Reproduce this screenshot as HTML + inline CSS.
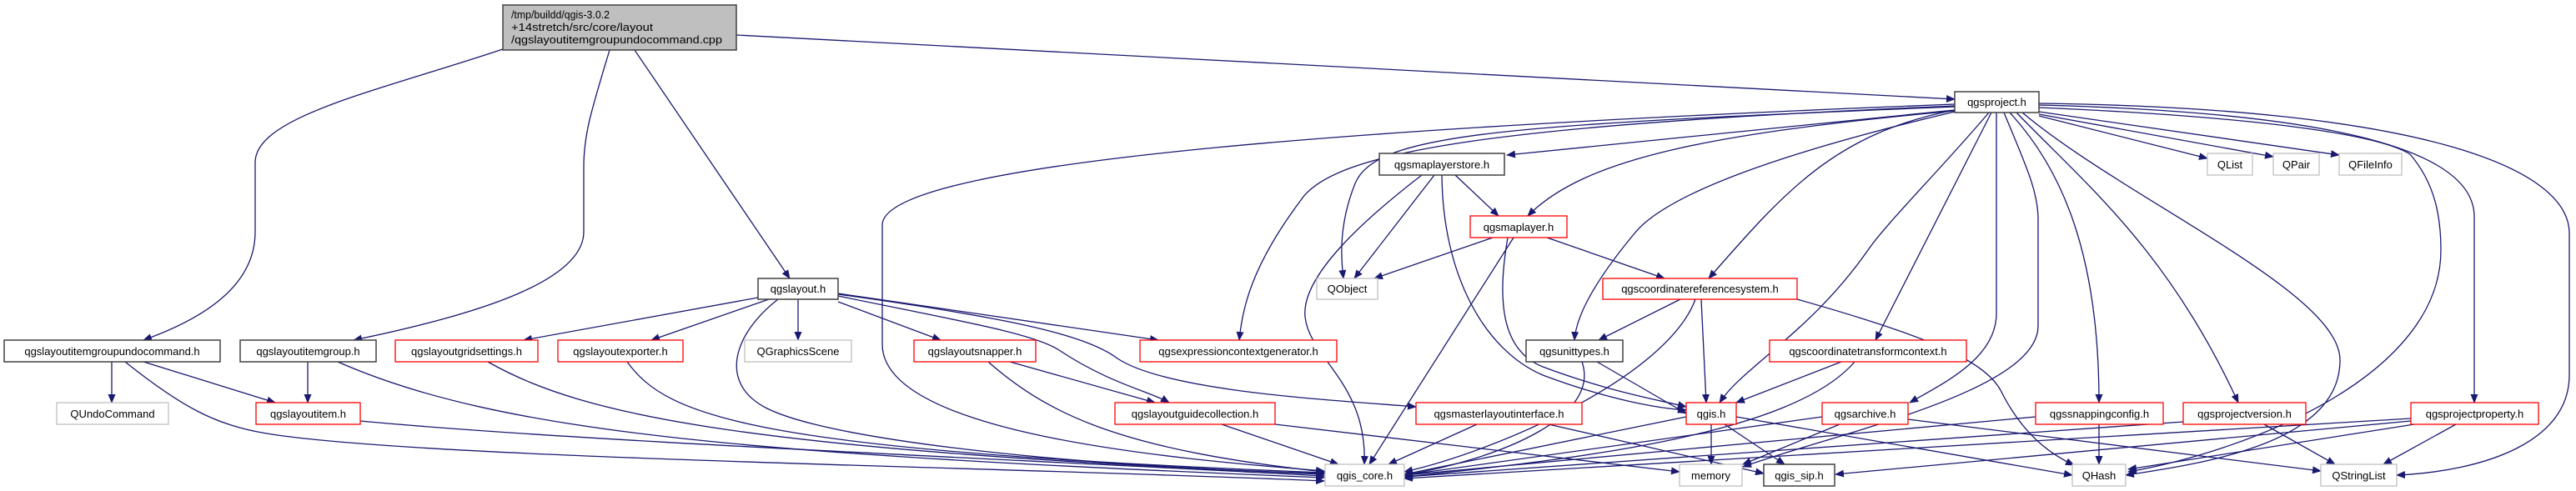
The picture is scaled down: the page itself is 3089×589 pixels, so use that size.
<!DOCTYPE html>
<html><head><meta charset="utf-8"><style>
html,body{margin:0;padding:0;background:#fff;}
svg{display:block;}
text{font-family:"Liberation Sans","DejaVu Sans",sans-serif;font-size:13px;fill:#000;}
.e{fill:none;stroke:#191970;stroke-width:1.3;marker-end:url(#a);}
.b{fill:#fff;stroke:#404040;stroke-width:1.5;}
.r{fill:#fff;stroke:#ff0000;stroke-width:1.3;}
.g{fill:#fff;stroke:#bfbfbf;stroke-width:1.3;}
</style></head><body>
<svg width="3089" height="589" viewBox="0 0 3089 589" xmlns="http://www.w3.org/2000/svg">
<defs><marker id="a" markerWidth="11" markerHeight="9" refX="10" refY="4.5" orient="auto" markerUnits="userSpaceOnUse"><path d="M0,0 L11,4.5 L0,9 z" fill="#191970"/></marker></defs>
<g>
<!-- main edges -->
<path class="e" d="M883,42 L2344,119"/>
<path class="e" d="M603,59 C450,110 306,140 306,195 L306,278 C306,340 250,380 172,408"/>
<path class="e" d="M731,60 C710,130 700,160 700,200 L700,278 C700,340 560,380 424,408"/>
<path class="e" d="M761,60 L947,334"/>
<!-- qgslayout.h -->
<path class="e" d="M909,357 L628,408"/>
<path class="e" d="M922,359 L781,408"/>
<path class="e" d="M957,359 L957,408"/>
<path class="e" d="M933,359 C880,400 860,460 920,490 C1000,530 1300,560 1588,568"/>
<path class="e" d="M1005,362 L1128,408"/>
<path class="e" d="M1005,355 C1150,385 1240,400 1270,420 C1330,460 1380,470 1402,483"/>
<path class="e" d="M1005,352 L1389,408"/>
<path class="e" d="M1005,353 C1200,380 1300,400 1340,430 C1400,470 1600,480 1698,488"/>
<!-- row 2 -->
<path class="e" d="M134,434 L134,483"/>
<path class="e" d="M172,434 L330,483"/>
<path class="e" d="M150,434 C220,490 260,510 320,520 C500,550 1200,560 1588,577"/>
<path class="e" d="M369,434 L369,483"/>
<path class="e" d="M405,434 C600,520 900,545 1588,573"/>
<path class="e" d="M585,434 C700,500 900,540 1588,569"/>
<path class="e" d="M752,434 C800,500 900,540 1588,567"/>
<path class="e" d="M432,505 C700,530 1200,550 1588,571"/>
<path class="e" d="M1211,434 L1385,483"/>
<path class="e" d="M1185,434 C1260,500 1350,540 1588,566"/>
<path class="e" d="M1465,509 L1605,557"/>
<path class="e" d="M1529,509 L2014,566"/>
<path class="e" d="M1771,509 L1665,557"/>
<path class="e" d="M1857,509 L2115,568"/>
<!-- qgsproject edges -->
<path class="e" d="M2344,125 C1700,150 1058,190 1058,270 L1058,413 C1058,520 1400,550 1588,565"/>
<path class="e" d="M2344,127 C1800,150 1600,180 1560,240 C1500,320 1490,370 1486,408"/>
<path class="e" d="M2344,128 C1800,150 1650,160 1625,220 C1605,270 1608,310 1611,334"/>
<path class="e" d="M2344,132 L1807,186"/>
<path class="e" d="M2344,133 C2050,160 1900,190 1832,259"/>
<path class="e" d="M2344,132 C2200,160 2140,230 2049,334"/>
<path class="e" d="M2344,134 C2150,180 2000,230 1960,280 C1910,340 1890,380 1888,408"/>
<path class="e" d="M2385,135 C2330,200 2260,270 2240,300 C2170,400 2090,440 2062,483"/>
<path class="e" d="M2388,135 L2249,408"/>
<path class="e" d="M2394,135 L2394,376 C2394,430 2330,460 2290,483"/>
<path class="e" d="M2403,135 C2430,200 2444,230 2444,263 L2444,391 C2444,470 2200,520 2090,560"/>
<path class="e" d="M2410,135 C2470,200 2517,300 2517,483"/>
<path class="e" d="M2418,135 C2500,220 2600,300 2684,483"/>
<path class="e" d="M2425,135 C2550,240 2806,350 2806,432 C2806,530 2650,555 2549,570"/>
<path class="e" d="M2445,139 L2647,190"/>
<path class="e" d="M2445,137 L2726,188"/>
<path class="e" d="M2445,134 L2805,186"/>
<path class="e" d="M2445,129 C2700,140 2850,160 2890,185 C2920,220 2927,260 2927,300 C2927,450 2700,540 2552,566"/>
<path class="e" d="M2445,126 C2800,135 2967,180 2967,260 L2967,483"/>
<path class="e" d="M2445,124 C2900,130 3081,200 3081,280 L3081,450 C3081,530 2980,565 2874,570"/>
<!-- lower right -->
<path class="e" d="M2441,500 L1684,570"/>
<path class="e" d="M2618,506 L1684,572"/>
<path class="e" d="M2715,509 L2800,557"/>
<path class="e" d="M2945,509 L2858,557"/>
<path class="e" d="M2891,502 L1684,574"/>
<path class="e" d="M2895,509 L2552,563"/>
<path class="e" d="M2891,505 L2201,569"/>
<path class="e" d="M2517,509 L2517,557"/>
<path class="e" d="M2185,500 L1684,570"/>
<path class="e" d="M2206,509 L2090,557"/>
<path class="e" d="M2288,503 L2783,565"/>
<path class="e" d="M2052,509 L2052,557"/>
<path class="e" d="M2068,509 L2140,557"/>
<path class="e" d="M2082,500 L2485,570"/>
<path class="e" d="M2022,500 L1684,569"/>
<path class="e" d="M2208,434 L2082,483"/>
<path class="e" d="M2224,434 C2150,520 1900,550 1684,572"/>
<path class="e" d="M2040,359 L2046,483"/>
<path class="e" d="M2015,359 L1917,408"/>
<path class="e" d="M2033,359 C2000,450 1800,540 1684,566"/>
<path class="e" d="M2155,359 C2300,400 2380,430 2400,470 C2430,530 2470,550 2487,558"/>
<path class="e" d="M1897,434 C1920,500 1800,550 1684,570"/>
<path class="e" d="M1915,434 L2022,496"/>
<path class="e" d="M1790,285 L1648,334"/>
<path class="e" d="M1855,285 L1996,334"/>
<path class="e" d="M1815,285 L1642,557"/>
<path class="e" d="M1808,285 C1795,360 1800,420 1850,440 C1930,470 1990,480 2022,488"/>
<path class="e" d="M1745,210 L1797,259"/>
<path class="e" d="M1720,210 L1624,334"/>
<path class="e" d="M1705,210 C1640,260 1560,330 1565,380 C1570,430 1640,460 1636,557"/>
<path class="e" d="M1729,210 C1730,330 1780,420 1850,450 C1930,480 1990,490 2022,492"/>
</g>
<g>
<rect x="603" y="6" width="280" height="54" fill="#bfbfbf" stroke="#404040" stroke-width="1.5"/>
<text x="613" y="22" textLength="118" lengthAdjust="spacingAndGlyphs">/tmp/buildd/qgis-3.0.2</text>
<text x="613" y="37" textLength="170" lengthAdjust="spacingAndGlyphs">+14stretch/src/core/layout</text>
<text x="613" y="52" textLength="253" lengthAdjust="spacingAndGlyphs">/qgslayoutitemgroupundocommand.cpp</text>

<rect class="b" x="2344" y="110" width="101" height="25"/><text x="2394.5" y="127" text-anchor="middle">qgsproject.h</text>
<rect class="g" x="2647" y="184" width="54" height="26"/><text x="2674" y="202" text-anchor="middle">QList</text>
<rect class="g" x="2726" y="184" width="55" height="26"/><text x="2753.5" y="202" text-anchor="middle">QPair</text>
<rect class="g" x="2805" y="184" width="75" height="26"/><text x="2842.5" y="202" text-anchor="middle">QFileInfo</text>
<rect class="b" x="1654" y="184" width="150" height="26"/><text x="1729" y="202" text-anchor="middle">qgsmaplayerstore.h</text>
<rect class="r" x="1763" y="259" width="116" height="26"/><text x="1821" y="277" text-anchor="middle">qgsmaplayer.h</text>

<rect class="b" x="909" y="334" width="96" height="25"/><text x="957" y="351" text-anchor="middle">qgslayout.h</text>
<rect class="g" x="1579" y="334" width="73" height="25"/><text x="1615.5" y="351" text-anchor="middle">QObject</text>
<rect class="r" x="1922" y="334" width="233" height="25"/><text x="2038.5" y="351" text-anchor="middle">qgscoordinatereferencesystem.h</text>

<rect class="b" x="5" y="408" width="259" height="26"/><text x="134.5" y="426" text-anchor="middle">qgslayoutitemgroupundocommand.h</text>
<rect class="b" x="288" y="408" width="163" height="26"/><text x="369.5" y="426" text-anchor="middle">qgslayoutitemgroup.h</text>
<rect class="r" x="474" y="408" width="171" height="26"/><text x="559.5" y="426" text-anchor="middle">qgslayoutgridsettings.h</text>
<rect class="r" x="669" y="408" width="150" height="26"/><text x="744" y="426" text-anchor="middle">qgslayoutexporter.h</text>
<rect class="g" x="893" y="408" width="128" height="26"/><text x="957" y="426" text-anchor="middle">QGraphicsScene</text>
<rect class="r" x="1096" y="408" width="146" height="26"/><text x="1169" y="426" text-anchor="middle">qgslayoutsnapper.h</text>
<rect class="r" x="1367" y="408" width="236" height="26"/><text x="1485" y="426" text-anchor="middle">qgsexpressioncontextgenerator.h</text>
<rect class="b" x="1830" y="408" width="116" height="26"/><text x="1888" y="426" text-anchor="middle">qgsunittypes.h</text>
<rect class="r" x="2122" y="408" width="236" height="26"/><text x="2240" y="426" text-anchor="middle">qgscoordinatetransformcontext.h</text>

<rect class="g" x="68" y="483" width="134" height="26"/><text x="135" y="501" text-anchor="middle">QUndoCommand</text>
<rect class="r" x="307" y="483" width="125" height="26"/><text x="369.5" y="501" text-anchor="middle">qgslayoutitem.h</text>
<rect class="r" x="1337" y="483" width="192" height="26"/><text x="1433" y="501" text-anchor="middle">qgslayoutguidecollection.h</text>
<rect class="r" x="1698" y="483" width="199" height="26"/><text x="1797.5" y="501" text-anchor="middle">qgsmasterlayoutinterface.h</text>
<rect class="r" x="2022" y="483" width="60" height="26"/><text x="2052" y="501" text-anchor="middle">qgis.h</text>
<rect class="r" x="2185" y="483" width="103" height="26"/><text x="2236.5" y="501" text-anchor="middle">qgsarchive.h</text>
<rect class="r" x="2441" y="483" width="153" height="26"/><text x="2517.5" y="501" text-anchor="middle">qgssnappingconfig.h</text>
<rect class="r" x="2618" y="483" width="147" height="26"/><text x="2691.5" y="501" text-anchor="middle">qgsprojectversion.h</text>
<rect class="r" x="2891" y="483" width="153" height="26"/><text x="2967.5" y="501" text-anchor="middle">qgsprojectproperty.h</text>

<rect class="g" x="1589" y="557" width="95" height="26"/><text x="1636.5" y="575" text-anchor="middle">qgis_core.h</text>
<rect class="g" x="2014" y="557" width="75" height="26"/><text x="2051.5" y="575" text-anchor="middle">memory</text>
<rect class="b" x="2115" y="557" width="85" height="26"/><text x="2157.5" y="575" text-anchor="middle">qgis_sip.h</text>
<rect class="g" x="2485" y="557" width="64" height="26"/><text x="2517" y="575" text-anchor="middle">QHash</text>
<rect class="g" x="2783" y="557" width="91" height="26"/><text x="2828.5" y="575" text-anchor="middle">QStringList</text>
</g>
</svg>
</body></html>
